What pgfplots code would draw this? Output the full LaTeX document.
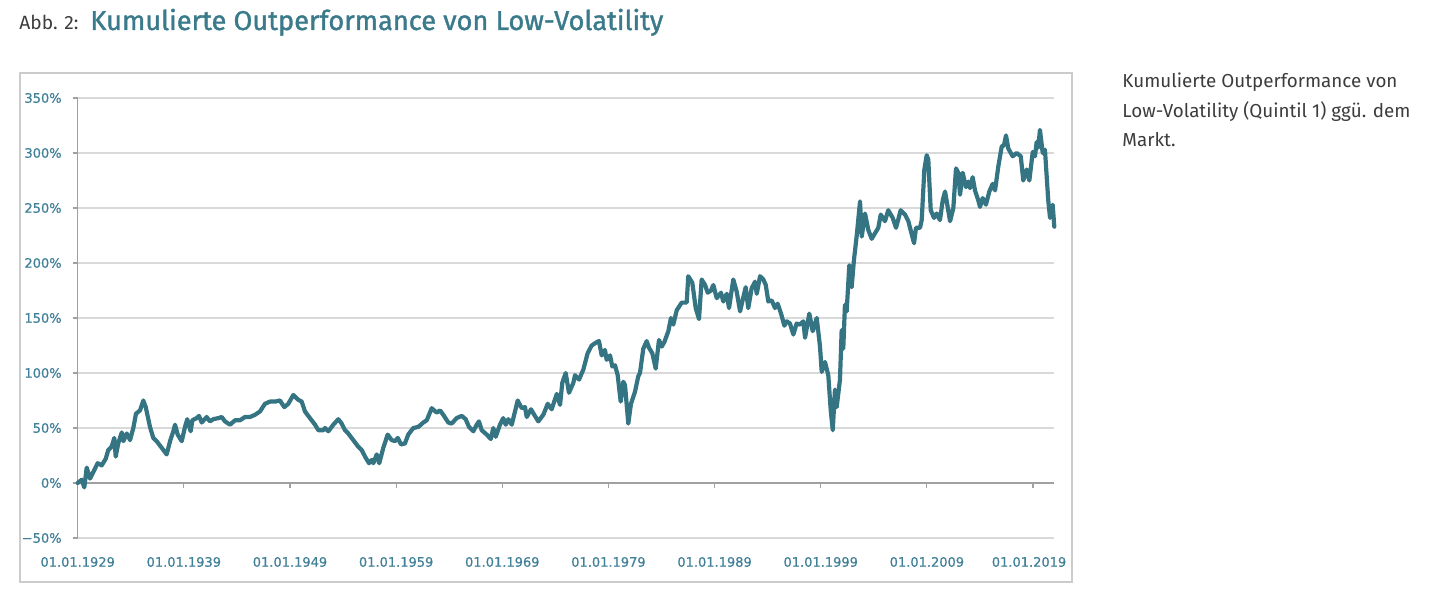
\documentclass[border=0pt]{standalone}
\usepackage{pgfplots}
\pgfplotsset{compat=1.18}
\usepackage{fontspec}
\setmainfont{Fira Sans}
\newfontfamily\titlefont[FakeBold=1.3]{Fira Sans}
\newfontfamily\tickfont[FakeBold=0.7]{DejaVu Sans}
\definecolor{linecol}{RGB}{53,116,130}
\definecolor{titlecol}{RGB}{58,122,138}
\definecolor{tickcol}{RGB}{64,128,152}
\definecolor{gridcol}{RGB}{217,217,217}
\definecolor{axiscol}{RGB}{160,160,160}
\definecolor{framecol}{RGB}{204,204,204}
\definecolor{textcol}{RGB}{60,60,60}

\begin{document}
\begin{tikzpicture}
\begin{scope}[x=0.5pt,y=0.5pt]
\path[use as bounding box] (0,0) rectangle (1434,594);
% frame round the chart
\draw[framecol, line width=0.75pt] (20,12) rectangle (1072,521);
% title
\node[anchor=base west, inner sep=0, text=textcol, font=\fontsize{9.6}{11}\selectfont] at (19,564) {Abb. 2:};
\node[anchor=base west, inner sep=0, text=titlecol, font=\titlefont\fontsize{13.6}{15}\selectfont] at (90,564) {Kumulierte Outperformance von Low-Volatility};
% side note
\node[anchor=base west, inner sep=0, text=textcol, font=\fontsize{9.4}{11}\selectfont] at (1122,506) {Kumulierte Outperformance von};
\node[anchor=base west, inner sep=0, text=textcol, font=\fontsize{9.4}{11}\selectfont] at (1122,476.5) {Low-Volatility (Quintil 1) ggü. dem};
\node[anchor=base west, inner sep=0, text=textcol, font=\fontsize{9.4}{11}\selectfont] at (1122,447) {Markt.};
\end{scope}

\begin{axis}[
    at={(38.85pt,28pt)}, anchor=south west,
    scale only axis,
    width=488.3pt, height=220pt,
    xmin=1929, xmax=2021,
    ymin=-50, ymax=350,
    clip=false,
    axis line style={draw=none},
    xtick={1929,1939,...,2019},
    xticklabels={01.01.1929,01.01.1939,01.01.1949,01.01.1959,01.01.1969,01.01.1979,01.01.1989,01.01.1999,01.01.2009,01.01.2019\hspace*{4pt}},
    ytick={-50,0,...,350},
    yticklabels={−50\%,0\%,50\%,100\%,150\%,200\%,250\%,300\%,350\%},
    xtick style={draw=none},
    ytick style={draw=axiscol, line width=0.6pt},
    ytick pos=left,
    tick align=outside,
    major tick length=2.5pt,
    tick label style={font=\tickfont\fontsize{6.5}{7}\selectfont, text=tickcol},
    yticklabel style={xshift=-2pt},
    xticklabel style={yshift=-3.5pt},
    ymajorgrids=true,
    major grid style={draw=gridcol, line width=0.6pt},
  ]
  % y axis line and the zero line with its ticks
  \draw[axiscol, line width=0.6pt] (rel axis cs:0,0) -- (rel axis cs:0,1);
  \draw[axiscol, line width=0.6pt] (rel axis cs:0,0.125) -- (rel axis cs:1,0.125);
  \pgfplotsinvokeforeach{1,2,3,4,5,6,7,8,9}{
    \draw[axiscol, line width=0.6pt] (rel axis cs:#1*10/92,0.125) -- ++(0pt,-2.5pt);
  }
  \addplot[linecol, line width=2.1pt, line join=round, line cap=round] coordinates {
    (1929.00,0) (1929.38,3) (1929.62,-4) (1929.85,14) (1930.16,4) (1930.47,10)
    (1930.88,18) (1931.26,16) (1931.64,22) (1931.88,30) (1932.20,33) (1932.45,41)
    (1932.58,24) (1932.82,36) (1933.15,46) (1933.30,38) (1933.62,45) (1933.93,39)
    (1934.24,50) (1934.49,63) (1934.87,66) (1935.18,75) (1935.41,69) (1935.81,51)
    (1936.12,41) (1936.44,38) (1936.91,32) (1937.38,26) (1937.70,38) (1938.01,47)
    (1938.17,53) (1938.42,44) (1938.80,38) (1939.11,51) (1939.32,58) (1939.64,47)
    (1939.80,57) (1940.21,59) (1940.43,61) (1940.68,55) (1941.15,60) (1941.46,56)
    (1941.77,58) (1942.25,59) (1942.57,60) (1942.88,56) (1943.35,53) (1943.82,57)
    (1944.29,57) (1944.76,60) (1945.23,60) (1945.70,62) (1946.17,65) (1946.64,72)
    (1947.11,74) (1947.58,74) (1948.05,75) (1948.46,69) (1948.84,72) (1949.31,80)
    (1949.73,76) (1950.10,74) (1950.41,65) (1950.88,59) (1951.36,53) (1951.67,48)
    (1952.14,48) (1952.30,50) (1952.61,47) (1953.08,53) (1953.55,58) (1953.87,54)
    (1954.18,48) (1954.49,45) (1954.96,39) (1955.43,33) (1955.75,30) (1956.07,24)
    (1956.44,18) (1956.70,21) (1956.85,18) (1957.17,26) (1957.41,18) (1957.79,32)
    (1958.20,44) (1958.58,39) (1958.89,38) (1959.15,41) (1959.46,35) (1959.83,36)
    (1960.14,44) (1960.62,50) (1961.09,51) (1961.56,55) (1961.88,57) (1962.35,68)
    (1962.82,64) (1963.13,66) (1963.44,62) (1963.91,55) (1964.23,54) (1964.70,59)
    (1965.18,61) (1965.55,58) (1965.86,51) (1966.27,47) (1966.59,53) (1966.80,56)
    (1967.06,48) (1967.53,44) (1967.91,40) (1968.15,50) (1968.38,42) (1968.78,53)
    (1969.09,59) (1969.32,53) (1969.57,58) (1969.89,53) (1970.45,75) (1970.83,68)
    (1971.14,69) (1971.30,60) (1971.70,67) (1972.01,62) (1972.39,56) (1972.86,62)
    (1973.28,72) (1973.65,67) (1974.13,81) (1974.44,71) (1974.65,91) (1974.97,100)
    (1975.28,82) (1975.69,91) (1975.85,98) (1976.23,94) (1976.63,103) (1977.04,118)
    (1977.42,125) (1977.89,128) (1978.11,129) (1978.36,116) (1978.67,121) (1978.83,112)
    (1979.15,116) (1979.36,106) (1979.62,107) (1979.87,98) (1980.15,74) (1980.40,92)
    (1980.56,89) (1980.87,54) (1981.12,72) (1981.50,83) (1981.81,97) (1981.97,100)
    (1982.28,122) (1982.60,129) (1982.82,123) (1983.13,118) (1983.45,104) (1983.76,130)
    (1984.02,124) (1984.26,128) (1984.64,138) (1984.89,150) (1985.11,144) (1985.43,157)
    (1985.90,164) (1986.37,164) (1986.52,188) (1986.90,182) (1987.22,159) (1987.53,149)
    (1987.78,185) (1988.10,180) (1988.35,173) (1988.66,175) (1988.88,180) (1989.20,168)
    (1989.60,173) (1989.82,165) (1990.14,172) (1990.36,159) (1990.76,185) (1991.08,174)
    (1991.40,156) (1991.61,165) (1991.93,178) (1992.17,159) (1992.49,177) (1992.81,183)
    (1992.97,172) (1993.28,188) (1993.59,185) (1993.82,180) (1994.06,165) (1994.38,166)
    (1994.69,159) (1994.94,163) (1995.26,154) (1995.57,143) (1995.79,147) (1996.10,145)
    (1996.42,135) (1996.73,145) (1997.04,144) (1997.36,147) (1997.52,132) (1997.92,154)
    (1998.24,138) (1998.62,150) (1998.93,124) (1999.09,101) (1999.40,110) (1999.71,98)
    (1999.94,66) (2000.13,48) (2000.34,85) (2000.50,69) (2000.81,94) (2000.97,139)
    (2001.12,122) (2001.28,162) (2001.44,156) (2001.69,198) (2001.91,178) (2002.13,203)
    (2002.39,225) (2002.70,256) (2002.86,224) (2003.17,245) (2003.48,230) (2003.80,222)
    (2004.11,227) (2004.42,232) (2004.65,244) (2005.05,238) (2005.36,248) (2005.78,241)
    (2006.09,232) (2006.53,248) (2006.94,244) (2007.25,238) (2007.57,226) (2007.79,218)
    (2007.97,232) (2008.35,232) (2008.51,239) (2008.76,285) (2008.98,298) (2009.13,294)
    (2009.36,248) (2009.67,241) (2009.92,245) (2010.23,239) (2010.49,257) (2010.71,265)
    (2010.92,253) (2011.18,238) (2011.49,250) (2011.74,286) (2011.96,282) (2012.12,262)
    (2012.37,282) (2012.68,269) (2012.90,274) (2013.06,268) (2013.31,278) (2013.53,266)
    (2013.84,257) (2014.00,251) (2014.25,259) (2014.56,253) (2014.88,265) (2015.20,272)
    (2015.42,266) (2015.73,288) (2016.05,306) (2016.26,307) (2016.45,316) (2016.67,304)
    (2017.08,297) (2017.46,300) (2017.84,297) (2018.08,275) (2018.40,285) (2018.65,275)
    (2018.97,301) (2019.18,297) (2019.34,310) (2019.49,305) (2019.65,321) (2019.91,300)
    (2020.12,303) (2020.43,257) (2020.60,241) (2020.85,253) (2021.00,233)
  };
\end{axis}
\end{tikzpicture}
\end{document}
